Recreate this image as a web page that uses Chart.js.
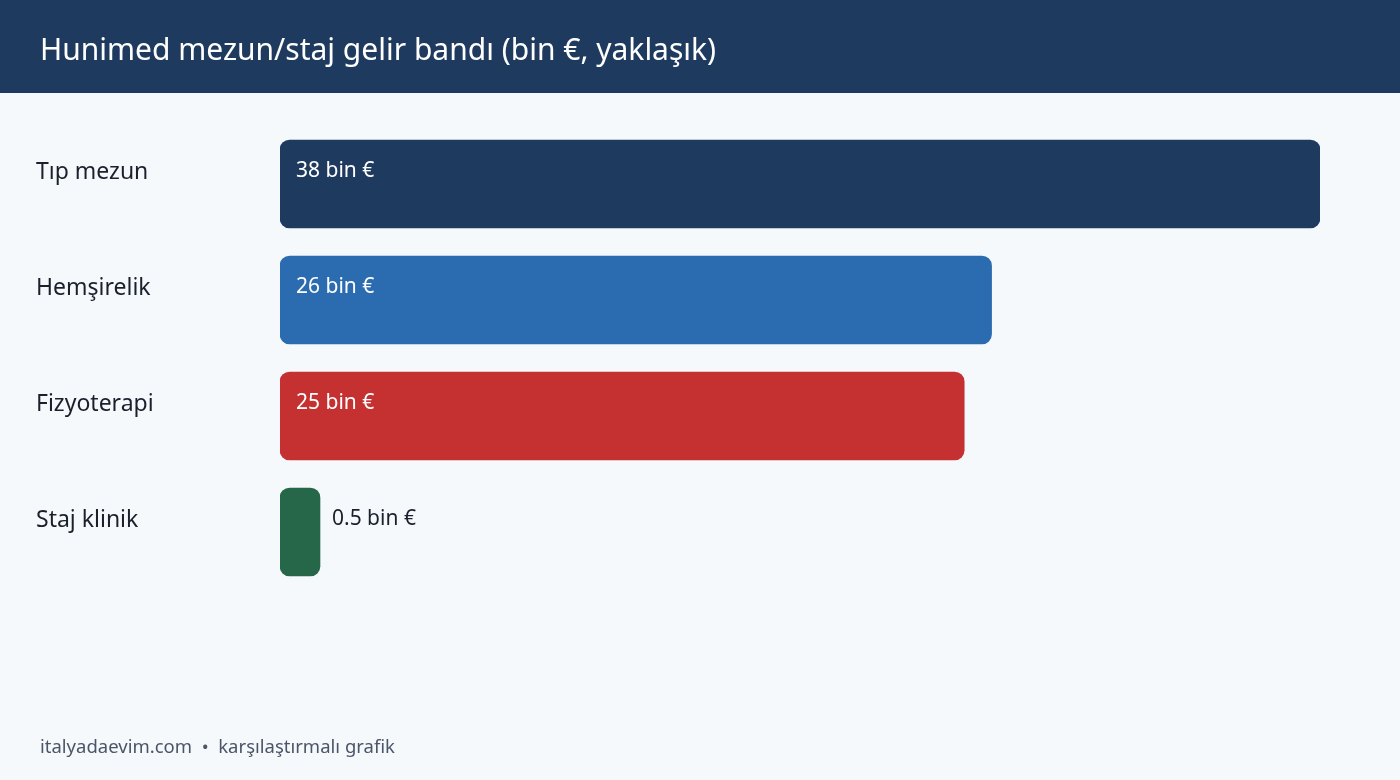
<!DOCTYPE html>
<html><head><meta charset="utf-8">
<script src="https://cdn.jsdelivr.net/npm/chart.js@4"></script>
<style>html,body{margin:0;padding:0;background:#f5f9fc;}#wrap{position:relative;width:1400px;height:780px;}</style>
</head><body><div id="wrap"><canvas id="c" width="1400" height="780"></canvas></div>
<script>
const title = "Hunimed mezun/staj gelir bandı (bin €, yaklaşık)";
const footer = "italyadaevim.com  •  karşılaştırmalı grafik";
const categories = ["Tıp mezun", "Hemşirelik", "Fizyoterapi", "Staj klinik"];
const values = [38, 26, 25, 0.5];
const valueLabels = ["38 bin €", "26 bin €", "25 bin €", "0.5 bin €"];
const colors = ["#1f3a5f", "#2b6cb0", "#c53030", "#276749"];
const FONT = "'Noto Sans', sans-serif";

const decor = {
  id: 'decor',
  beforeDraw(chart) {
    const ctx = chart.ctx;
    ctx.save();
    ctx.fillStyle = '#f5f9fc';
    ctx.fillRect(0, 0, chart.width, chart.height);
    ctx.fillStyle = '#1f3a5f';
    ctx.fillRect(0, 0, chart.width, 93);
    ctx.fillStyle = '#ffffff';
    ctx.font = "30px " + FONT;
    ctx.textBaseline = 'middle';
    ctx.fillText(title, 40, 51);
    ctx.fillStyle = '#4a5568';
    ctx.font = "18.5px " + FONT;
    ctx.fillText(footer, 40, 748);
    ctx.restore();
  },
  afterDatasetsDraw(chart) {
    const ctx = chart.ctx;
    const meta = chart.getDatasetMeta(0);
    ctx.save();
    ctx.textBaseline = 'middle';
    meta.data.forEach((bar, i) => {
      const top = bar.y - bar.height / 2;
      ctx.fillStyle = '#1a202c';
      ctx.font = "23px " + FONT;
      ctx.fillText(categories[i], 36, top + 32);
      ctx.font = "21px " + FONT;
      const w = bar.x - bar.base;
      if (w > 120) {
        ctx.fillStyle = '#ffffff';
        ctx.fillText(valueLabels[i], bar.base + 16, top + 31);
      } else {
        ctx.fillStyle = '#1a202c';
        ctx.fillText(valueLabels[i], bar.x + 12, top + 31);
      }
    });
    ctx.restore();
  }
};

new Chart(document.getElementById('c'), {
  type: 'bar',
  data: { labels: categories, datasets: [{ data: values, backgroundColor: colors, borderRadius: 10, borderSkipped: false, barThickness: 88, minBarLength: 40 }] },
  options: {
    indexAxis: 'y', responsive: false, animation: false,
    layout: { padding: { left: 280, right: 80, top: 126, bottom: 190 } },
    scales: {
      x: { display: false, min: 0, max: 38, grid: { display: false } },
      y: { display: false, grid: { display: false } }
    },
    plugins: { legend: { display: false }, tooltip: { enabled: false } }
  },
  plugins: [decor]
});
</script></body></html>
